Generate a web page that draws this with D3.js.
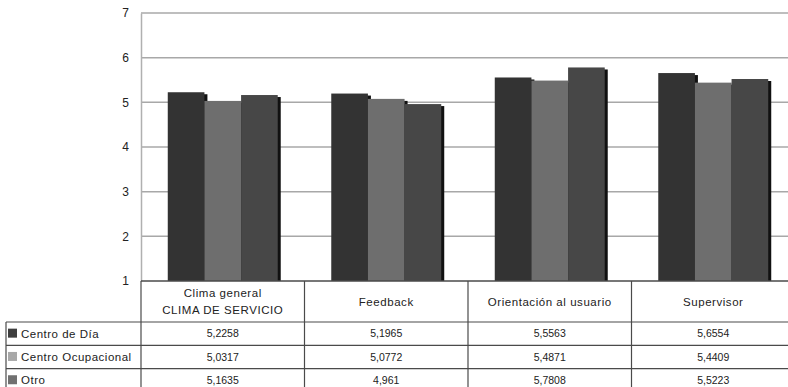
<!DOCTYPE html>
<html>
<head>
<meta charset="utf-8">
<script src="https://cdn.jsdelivr.net/npm/d3@7"></script>
<style>
  body { margin: 0; background: #fff; }
  svg text { font-family: "Liberation Sans", Arial, sans-serif; fill: #222; }
</style>
</head>
<body>
<div id="chart"></div>
<script>
const width = 788, height = 387;

// data
const categories = [["Clima general", "CLIMA DE SERVICIO"], ["Feedback"], ["Orientación al usuario"], ["Supervisor"]];
const seriesNames = ["Centro de Día", "Centro Ocupacional", "Otro"];
const centroDia = [5.2258, 5.1965, 5.5563, 5.6554];
const centroOcup = [5.0317, 5.0772, 5.4871, 5.4409];
const otro = [5.1635, 4.961, 5.7808, 5.5223];
const yTicks = [1, 2, 3, 4, 5, 6, 7];

const seriesValues = [centroDia, centroOcup, otro];
const barColors = ["#333333", "#6e6e6e", "#474747"];
const swatchColors = ["#3e3e3e", "#a8a8a8", "#707070"];

const plot = { left: 141, right: 795, top: 13, bottom: 281 };
const rowH = [41, 23.3, 23.3, 23.3];

const svg = d3.select("#chart").append("svg")
  .attr("width", width)
  .attr("height", height);

const catIdx = categories.map((c, i) => i);

const x0 = d3.scaleBand()
  .domain(catIdx)
  .range([plot.left, plot.right]);

const x1 = d3.scaleBand()
  .domain([0, 1, 2])
  .range([0, x0.bandwidth()])
  .paddingOuter(0.73);

const y = d3.scaleLinear()
  .domain([1, 7])
  .range([plot.bottom, plot.top]);

// GRID
svg.append("g").selectAll("line")
  .data(yTicks.slice(1))
  .join("line")
  .attr("x1", plot.left).attr("x2", width)
  .attr("y1", d => y(d)).attr("y2", d => y(d))
  .attr("stroke", "#a8a8a8")
  .attr("stroke-width", 1.5);

// Y AXIS
const yAxis = svg.append("g")
  .attr("transform", `translate(${plot.left},0)`)
  .call(d3.axisLeft(y).tickValues(yTicks).tickSize(0).tickPadding(12).tickFormat(d3.format("d")));
yAxis.select(".domain").attr("stroke", "#b0b0b0").attr("stroke-width", 1.5);
yAxis.selectAll("text")
  .style("font-family", "'Liberation Sans', Arial, sans-serif")
  .style("font-size", "12px")
  .attr("fill", "#222");

// BARS with shadow
const groups = svg.append("g").selectAll("g")
  .data(catIdx)
  .join("g")
  .attr("transform", c => `translate(${x0(c)},0)`);

groups.each(function(c) {
  const g = d3.select(this);
  seriesValues.forEach((vals, s) => {
    const v = vals[c];
    g.append("rect")
      .attr("x", x1(s) + 3)
      .attr("y", y(v) + 2)
      .attr("width", x1.bandwidth())
      .attr("height", plot.bottom - y(v) - 2)
      .attr("fill", "#111");
    g.append("rect")
      .attr("x", x1(s))
      .attr("y", y(v))
      .attr("width", x1.bandwidth())
      .attr("height", plot.bottom - y(v))
      .attr("fill", barColors[s]);
  });
});

// DATA TABLE
const table = svg.append("g");
const lineColor = "#4a4a4a";
const rowTop = [plot.bottom];
rowH.forEach((h, i) => rowTop.push(rowTop[i] + h));

// horizontal lines
table.append("line")
  .attr("x1", plot.left).attr("x2", width)
  .attr("y1", plot.bottom).attr("y2", plot.bottom)
  .attr("stroke", lineColor).attr("stroke-width", 1.5);
[1, 2, 3, 4].forEach(i => {
  table.append("line")
    .attr("x1", 6).attr("x2", width)
    .attr("y1", rowTop[i]).attr("y2", rowTop[i])
    .attr("stroke", lineColor).attr("stroke-width", 1.2);
});

// vertical lines
catIdx.concat([categories.length]).forEach(c => {
  const xx = plot.left + c * x0.step();
  table.append("line")
    .attr("x1", xx).attr("x2", xx)
    .attr("y1", plot.bottom).attr("y2", height + 10)
    .attr("stroke", lineColor).attr("stroke-width", 1.2);
});
table.append("line")
  .attr("x1", 6).attr("x2", 6)
  .attr("y1", rowTop[1]).attr("y2", height + 10)
  .attr("stroke", lineColor).attr("stroke-width", 1.2);

// header labels
catIdx.forEach(c => {
  const lines = categories[c];
  const cx = x0(c) + x0.bandwidth() / 2;
  const midY = (rowTop[0] + rowTop[1]) / 2;
  lines.forEach((t, k) => {
    table.append("text")
      .attr("x", cx)
      .attr("y", midY + (k - (lines.length - 1) / 2) * 17)
      .attr("dy", "0.35em")
      .attr("text-anchor", "middle")
      .style("font-size", "11.5px")
      .style("letter-spacing", "0.55px")
      .text(t);
  });
});

// rows
seriesNames.forEach((name, s) => {
  const midY = (rowTop[s + 1] + rowTop[s + 2]) / 2;
  table.append("rect")
    .attr("x", 8).attr("y", midY - 5)
    .attr("width", 9).attr("height", 9)
    .attr("fill", swatchColors[s]);
  table.append("text")
    .attr("x", 21).attr("y", midY)
    .attr("dy", "0.35em")
    .style("font-size", "11.5px")
    .style("letter-spacing", "0.5px")
    .text(name);
  seriesValues[s].forEach((v, c) => {
    table.append("text")
      .attr("x", x0(c) + x0.bandwidth() / 2)
      .attr("y", midY)
      .attr("dy", "0.35em")
      .attr("text-anchor", "middle")
      .style("font-size", "10.5px")
      .text(String(v).replace(".", ","));
  });
});
</script>
</body>
</html>
